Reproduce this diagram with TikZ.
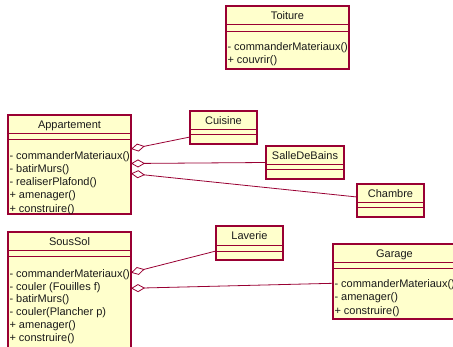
\documentclass[tikz,border=0pt]{standalone}
\usepackage{fontspec}
\setmainfont{Liberation Sans}
\usetikzlibrary{arrows.meta,calc}
\definecolor{umlborder}{HTML}{990033}
\definecolor{umlfill}{HTML}{FFFFCC}
\definecolor{umltext}{HTML}{1A1A1A}
\tikzset{
 classrect/.style={draw=umlborder, fill=umlfill, line width=1.1pt, inner sep=0pt, outer sep=0pt, anchor=north west},
 sepline/.style={draw=umlborder, line width=0.9pt},
 titletext/.style={font=\fontsize{11}{13}\selectfont, text=umltext, inner sep=0pt, anchor=base},
 optext/.style={font=\fontsize{11}{13}\selectfont, text=umltext, inner sep=0pt, anchor=base west},
 agg/.style={draw=umlborder, line width=0.8pt, {Diamond[open,length=14pt,width=8pt,line width=0.8pt]}-},
}
\newcommand{\umlclass}[8]{%
 \node[classrect, minimum width={(#4-#2)*1pt}, minimum height={(#5-#3)*1pt}] (#1) at (#2,#3) {};
 \draw[sepline] (#2,#6) -- (#4,#6) (#2,#7) -- (#4,#7);
 \node[titletext] (#1t) at ({(#2+#4)/2},{(#3+#6)/2+4.3}) {#8};
}
\newcommand{\umlops}[5]{%
 \foreach \t [count=\i from 0] in {#5}
   \node[optext] (#1m\i) at ({#2+1.3},{#3+\i*#4+4.2}) {\t};
}
\begin{document}
\begin{tikzpicture}[x=1pt,y=-1pt]
\path[use as bounding box] (0,0) rectangle (453,347);
\clip (0,0) rectangle (453,347);

% Toiture
\umlclass{toit}{226}{6}{349}{69}{24}{31}{Toiture}
\umlops{toit}{226}{46}{13}{{- commanderMateriaux()},{+ couvrir()}}

% Appartement
\umlclass{app}{8}{115}{131}{214}{133}{139}{Appartement}
\umlops{app}{8}{155}{13.25}{{- commanderMateriaux()},{- batirMurs()},{- realiserPlafond()},{+ amenager()},{+ construire()}}

% Cuisine, SalleDeBains, Chambre
\umlclass{cuis}{190}{111}{257}{144}{129}{134}{Cuisine}
\umlclass{sdb}{266}{146}{344}{179}{164}{169}{SalleDeBains}
\umlclass{cham}{357}{184}{424}{217}{202}{207}{Chambre}

% SousSol
\umlclass{ssol}{8}{232}{131}{360}{250}{256}{SousSol}
\umlops{ssol}{8}{273}{12.9}{{- commanderMateriaux()},{- couler (Fouilles f)},{- batirMurs()},{- couler(Plancher p)},{+ amenager()},{+ construire()}}

% Laverie, Garage
\umlclass{lav}{216}{226}{283}{260}{245}{251}{Laverie}
\umlclass{gar}{333}{244}{456}{319}{262}{268}{Garage}
\umlops{gar}{333}{283}{13.5}{{- commanderMateriaux()},{- amenager()},{+ construire()}}

% connector end points
\coordinate (appA) at (131,149);
\coordinate (appB) at (131,163.5);
\coordinate (appC) at (131,173.5);
\coordinate (cuisL) at (190,137);
\coordinate (sdbL) at (266,162.5);
\coordinate (chamL) at (357,197);
\coordinate (ssolA) at (131,272.7);
\coordinate (ssolB) at (131,288.3);
\coordinate (lavL) at (216,251);
\coordinate (garL) at (333,283.3);

\draw[agg] (appA) -- (cuisL);
\draw[agg] (appB) -- (sdbL);
\draw[agg] (appC) -- (chamL);
\draw[agg] (ssolA) -- (lavL);
\draw[agg] (ssolB) -- (garL);
\end{tikzpicture}
\end{document}
